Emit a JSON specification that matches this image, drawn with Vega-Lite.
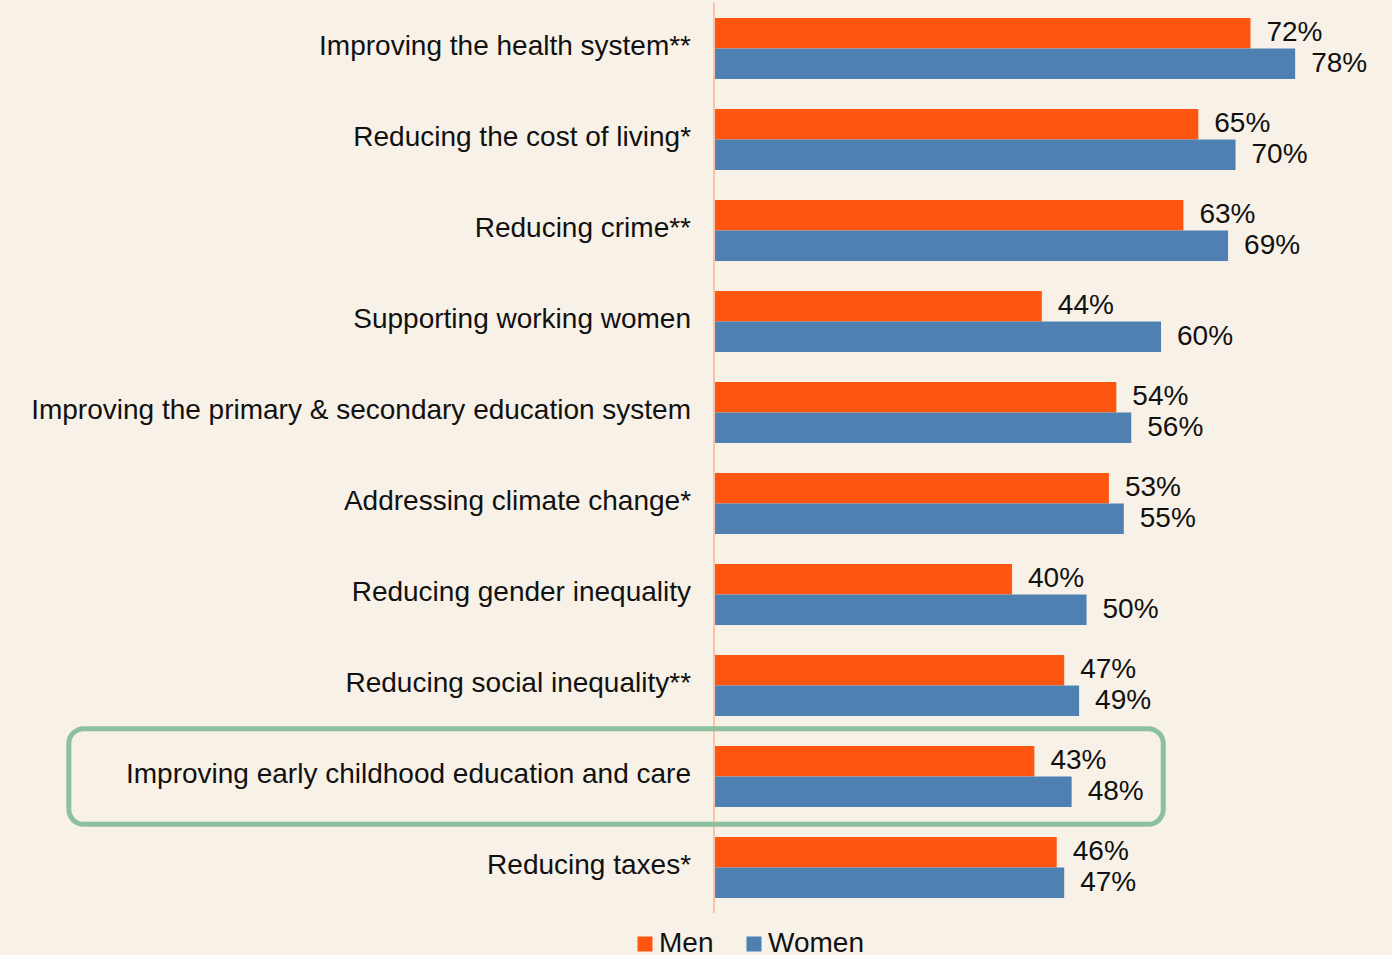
{
  "$schema": "https://vega.github.io/schema/vega-lite/v6.json",
  "autosize": "none",
  "width": 1392,
  "height": 910,
  "padding": {"top": 3, "left": 0, "right": 0, "bottom": 42},
  "background": "#F8F1E7",
  "config": {"view": {"stroke": null}, "font": "Liberation Sans"},
  "datasets": {
    "bars": [
      {"cat": "Improving the health system**", "series": "Men", "value": 72},
      {"cat": "Improving the health system**", "series": "Women", "value": 78},
      {"cat": "Reducing the cost of living*", "series": "Men", "value": 65},
      {"cat": "Reducing the cost of living*", "series": "Women", "value": 70},
      {"cat": "Reducing crime**", "series": "Men", "value": 63},
      {"cat": "Reducing crime**", "series": "Women", "value": 69},
      {"cat": "Supporting working women", "series": "Men", "value": 44},
      {"cat": "Supporting working women", "series": "Women", "value": 60},
      {"cat": "Improving the primary & secondary education system", "series": "Men", "value": 54},
      {"cat": "Improving the primary & secondary education system", "series": "Women", "value": 56},
      {"cat": "Addressing climate change*", "series": "Men", "value": 53},
      {"cat": "Addressing climate change*", "series": "Women", "value": 55},
      {"cat": "Reducing gender inequality", "series": "Men", "value": 40},
      {"cat": "Reducing gender inequality", "series": "Women", "value": 50},
      {"cat": "Reducing social inequality**", "series": "Men", "value": 47},
      {"cat": "Reducing social inequality**", "series": "Women", "value": 49},
      {"cat": "Improving early childhood education and care", "series": "Men", "value": 43},
      {"cat": "Improving early childhood education and care", "series": "Women", "value": 48},
      {"cat": "Reducing taxes*", "series": "Men", "value": 46},
      {"cat": "Reducing taxes*", "series": "Women", "value": 47}
    ],
    "highlight": [
      {"cat": "Improving early childhood education and care", "start": -86.6, "end": 60.3}
    ]
  },
  "layer": [
    {
      "data": {"name": "bars"},
      "mark": {"type": "bar"},
      "encoding": {
        "y": {
          "field": "cat", "type": "nominal", "axis": null, "sort": null,
          "scale": {"paddingInner": 0.33, "paddingOuter": 0.165}
        },
        "yOffset": {
          "field": "series", "type": "nominal", "sort": ["Men", "Women"],
          "scale": {"paddingInner": 0, "paddingOuter": 0}
        },
        "x": {
          "field": "value", "type": "quantitative", "axis": null,
          "scale": {"domain": [-95.84, 91.0], "nice": false, "zero": false}
        },
        "color": {
          "field": "series", "type": "nominal",
          "scale": {"domain": ["Men", "Women"], "range": ["#FE5511", "#4E81B2"]},
          "legend": {
            "title": null, "orient": "none", "direction": "horizontal",
            "legendX": 631, "legendY": 927,
            "symbolType": "square", "symbolSize": 225, "symbolStrokeWidth": 0,
            "labelFontSize": 28, "labelColor": "#111111", "labelFont": "Liberation Sans",
            "labelOffset": 0, "columnPadding": 26, "padding": 0
          }
        }
      }
    },
    {
      "data": {"name": "bars"},
      "transform": [{"calculate": "datum.value + '%'", "as": "lab"}],
      "mark": {"type": "text", "align": "left", "baseline": "middle", "dx": 16, "fontSize": 28, "color": "#111111"},
      "encoding": {
        "y": {"field": "cat", "type": "nominal", "sort": null},
        "yOffset": {"field": "series", "type": "nominal", "sort": ["Men", "Women"]},
        "x": {"field": "value", "type": "quantitative"},
        "text": {"field": "lab"}
      }
    },
    {
      "data": {"name": "bars"},
      "transform": [{"filter": "datum.series === 'Men'"}],
      "mark": {"type": "text", "align": "right", "baseline": "middle", "dx": -23, "dy": -2, "fontSize": 28, "color": "#111111"},
      "encoding": {
        "y": {"field": "cat", "type": "nominal", "sort": null},
        "x": {"datum": 0},
        "text": {"field": "cat"}
      }
    },
    {
      "data": {"values": [{}]},
      "mark": {"type": "rule", "color": "#FAC2A5", "strokeWidth": 2},
      "encoding": {"x": {"datum": 0}}
    },
    {
      "data": {"name": "highlight"},
      "mark": {"type": "bar", "fillOpacity": 0, "stroke": "#8DC09F", "strokeWidth": 5, "cornerRadius": 15, "height": {"band": 1.57}},
      "encoding": {
        "y": {"field": "cat", "type": "nominal", "sort": null},
        "x": {"field": "start", "type": "quantitative"},
        "x2": {"field": "end"}
      }
    }
  ]
}
